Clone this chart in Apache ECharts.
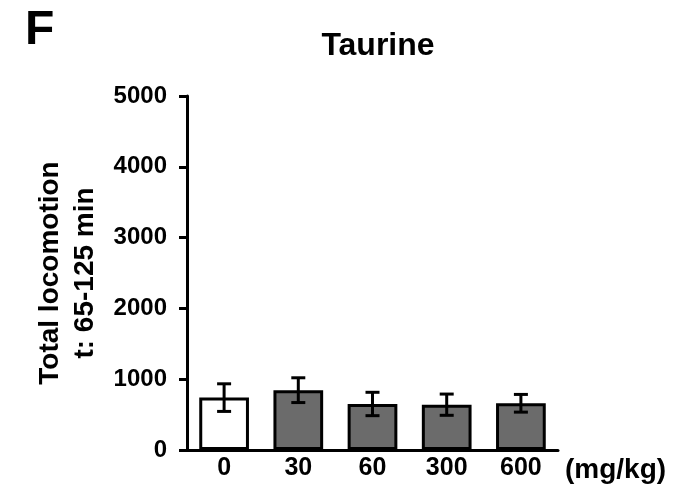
<!DOCTYPE html>
<html>
<head>
<meta charset="utf-8">
<script src="https://cdn.jsdelivr.net/npm/echarts@6/dist/echarts.min.js"></script>
<style>
  html, body { margin: 0; padding: 0; background: #fff; }
  #chart { width: 677px; height: 489px; }
</style>
</head>
<body>
<div id="chart"></div>
<script>
// doses (mg/kg), mean locomotion and error (SEM)
let doses = ['0', '30', '60', '300', '600'];
let means = [740, 845, 650, 640, 660];
let errors = [195, 175, 165, 150, 125];
let bar_fills = ['#ffffff', '#6b6b6b', '#6b6b6b', '#6b6b6b', '#6b6b6b'];
let y_ticks = [0, 1000, 2000, 3000, 4000, 5000];

const FONT = 'Liberation Sans, Arial, sans-serif';

function render_error_bar(params, api) {
    let x = api.value(0);
    let lo = api.coord([x, api.value(1)]);
    let hi = api.coord([x, api.value(2)]);
    let half = 7;
    let style = {stroke: '#000', lineWidth: 3};
    return {
        type: 'group',
        children: [
            {type: 'line', shape: {x1: hi[0], y1: hi[1], x2: lo[0], y2: lo[1]}, style: style},
            {type: 'line', shape: {x1: hi[0] - half, y1: hi[1], x2: hi[0] + half, y2: hi[1]}, style: style},
            {type: 'line', shape: {x1: lo[0] - half, y1: lo[1], x2: lo[0] + half, y2: lo[1]}, style: style},
        ]
    };
}

let chart = echarts.init(document.getElementById('chart'), null, {renderer: 'canvas'});

let bar_data = means.map(function (v, i) {
    return {value: v, itemStyle: {color: bar_fills[i], borderColor: '#000', borderWidth: 3}};
});
let err_data = means.map(function (v, i) {
    return [i, v - errors[i], v + errors[i]];
});

chart.setOption({
    animation: false,
    backgroundColor: '#fff',
    title: [
        {text: 'F', left: 20, top: 2, textStyle: {fontFamily: FONT, fontSize: 48, fontWeight: 'bold', color: '#000'}},
        {text: 'Taurine', left: 373, top: 25, textAlign: 'center',
            textStyle: {fontFamily: FONT, fontSize: 32, fontWeight: 'bold', color: '#000'}},
    ],
    grid: {left: 187, right: 119, top: 96, bottom: 39},
    xAxis: {
        type: 'category',
        data: doses,
        name: '(mg/kg)',
        nameLocation: 'end',
        nameGap: 7,
        nameTextStyle: {fontFamily: FONT, fontSize: 28, fontWeight: 'bold', color: '#000',
            verticalAlign: 'top', padding: [6, 0, 0, 0]},
        axisLine: {lineStyle: {color: '#000', width: 3}},
        axisTick: {show: false},
        axisLabel: {fontFamily: FONT, fontSize: 25, fontWeight: 'bold', color: '#000', margin: 6},
    },
    yAxis: {
        type: 'value',
        min: y_ticks[0],
        max: y_ticks[y_ticks.length - 1],
        interval: 1000,
        name: 'Total locomotion\nt: 65-125 min',
        nameLocation: 'middle',
        nameGap: 79,
        nameTextStyle: {fontFamily: FONT, fontSize: 28, fontWeight: 'bold', color: '#000', lineHeight: 35},
        axisLine: {show: true, lineStyle: {color: '#000', width: 3}},
        axisTick: {show: true, length: 8, lineStyle: {color: '#000', width: 3}},
        axisLabel: {fontFamily: FONT, fontSize: 24, fontWeight: 'bold', color: '#000', margin: 20,
            formatter: function (v) { return String(v); }},
        splitLine: {show: false},
    },
    series: [
        {type: 'bar', data: bar_data, barWidth: '67%'},
        {type: 'custom', data: err_data, renderItem: render_error_bar, z: 5},
    ]
});
</script>
</body>
</html>
